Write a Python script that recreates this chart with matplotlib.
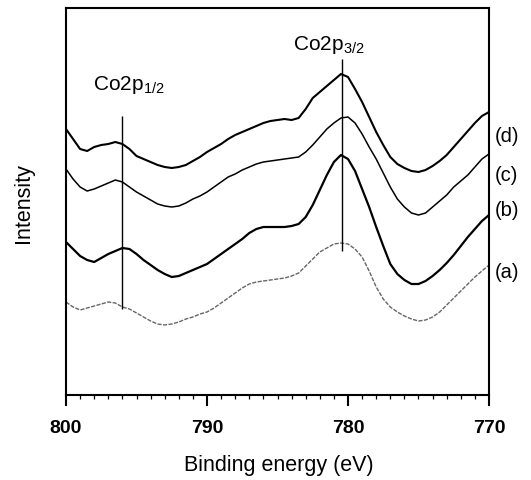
import matplotlib
matplotlib.use("Agg")
import matplotlib.pyplot as plt
import numpy as np

plt.rcParams['font.family'] = ['Liberation Sans', 'DejaVu Sans']
plt.rcParams['mathtext.fontset'] = 'custom'
plt.rcParams['mathtext.rm'] = 'Liberation Sans'
plt.rcParams['mathtext.default'] = 'regular'

# binding energy axis, 800 -> 770 eV in 0.5 eV steps
energy = np.arange(800, 769.9, -0.5)

# intensities (arbitrary units)
spec_d = [266, 256, 246, 244, 248, 250, 251, 253, 251,
          246, 239, 236, 233, 230, 228, 227, 228, 230, 234, 238, 243,
          247, 251, 256, 260, 263, 266, 269, 272, 274, 275,
          276, 275, 277, 286, 297, 303, 309, 315, 321, 318,
          306, 293, 278, 263, 250, 238, 231, 227, 224, 223,
          225, 229, 234, 240, 248, 256, 264, 272, 279, 283]
spec_c = [226, 216, 208, 204, 206, 209, 212, 215, 213,
          208, 203, 199, 195, 191, 189, 188, 189, 192, 196, 199, 203,
          208, 213, 218, 221, 225, 228, 231, 233, 234, 235,
          236, 237, 238, 243, 250, 258, 266, 272, 277, 278,
          272, 261, 248, 236, 222, 208, 196, 188, 182, 180,
          182, 188, 194, 200, 208, 214, 220, 228, 236, 241]
spec_b = [153, 146, 139, 135, 133, 137, 141, 144, 147,
          146, 141, 135, 130, 125, 121, 118, 119, 122, 125, 128, 131,
          136, 141, 146, 151, 156, 162, 166, 168, 168, 168,
          168, 169, 171, 178, 190, 205, 220, 233, 240, 236,
          224, 206, 188, 168, 149, 131, 121, 115, 111, 111,
          114, 119, 125, 132, 140, 149, 158, 166, 174, 180]
spec_a = [93, 88, 85, 87, 89, 91, 93, 92, 88,
          86, 82, 78, 74, 71, 70, 71, 73, 76, 78, 81, 83,
          87, 92, 97, 102, 107, 111, 113, 114, 115, 116,
          117, 119, 122, 129, 136, 143, 147, 151, 152, 151,
          146, 138, 124, 108, 96, 88, 83, 79, 76, 74,
          75, 78, 83, 90, 97, 104, 111, 118, 124, 130]

series_labels = ['(d)', '(c)', '(b)', '(a)']
label_y = [259, 221, 186, 124]

# peak markers: energy, line bottom, line top
peak_names = ['Co2p$_{1/2}$', 'Co2p$_{3/2}$']
peak_e = [796.0, 780.4]
peak_lo = [86, 144]
peak_hi = [279, 336]

fig = plt.figure(figsize=(5.31, 4.81), dpi=100)
ax = fig.add_axes([0.1243, 0.1767, 0.7966, 0.8046])

ax.plot(energy, spec_a, color='0.4', lw=1.0, ls=(0, (3, 1)))
ax.plot(energy, spec_b, color='black', lw=1.6)
ax.plot(energy, spec_c, color='black', lw=1.1)
ax.plot(energy, spec_d, color='black', lw=1.5)

for e, lo, hi in zip(peak_e, peak_lo, peak_hi):
    ax.vlines(e, lo, hi, color='black', lw=1.0)

ax.text(798.1, 306, peak_names[0], fontsize=15, va='baseline')
ax.text(783.9, 346, peak_names[1], fontsize=15, va='baseline')

for lab, yy in zip(series_labels, label_y):
    ax.text(1.014, yy, lab, transform=ax.get_yaxis_transform(),
            fontsize=14.5, va='center', ha='left')

ax.set_xlim(800, 770)
ax.set_ylim(0, 387)
ax.set_yticks([])
ax.set_xticks([800, 790, 780, 770])
ax.set_xticks(np.arange(770, 801, 1), minor=True)
ax.tick_params(axis='x', which='major', direction='out', length=8, width=1.5,
               pad=9, labelsize=14)
ax.tick_params(axis='x', which='minor', direction='out', length=3, width=0.9)
for lbl in ax.get_xticklabels():
    lbl.set_fontweight('bold')
for sp in ax.spines.values():
    sp.set_linewidth(1.5)

fig.text(279 / 531, 1 - 466 / 481, 'Binding energy (eV)', fontsize=15.5,
         ha='center', va='center')
fig.text(23 / 531, 1 - 203 / 481, 'Intensity', fontsize=15.5,
         ha='center', va='center', rotation=90)

fig.savefig('out.png', dpi=100)
